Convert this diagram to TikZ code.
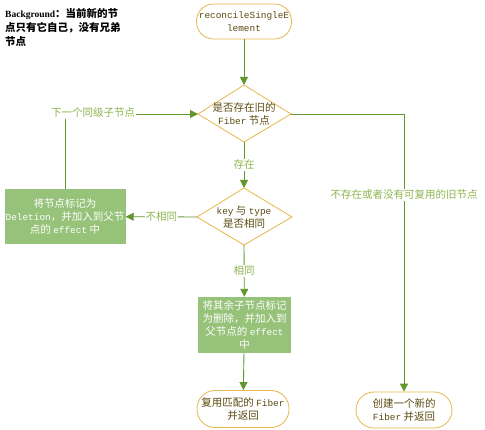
\documentclass[tikz,border=0pt]{standalone}
\usepackage{fontspec}
\setmainfont{Noto Sans CJK SC}
\newfontfamily\monofam{Liberation Mono}
\newfontfamily\bgserif{Liberation Serif}
\usetikzlibrary{arrows.meta}
\definecolor{lineg}{HTML}{62972F}
\definecolor{labg}{HTML}{8DB54E}
\definecolor{bord}{HTML}{E6B64A}
\definecolor{boxg}{HTML}{97C27A}
\definecolor{darkt}{HTML}{5B4B10}
\newcommand\mytt[1]{{\monofam\fontsize{9.4}{13}\selectfont #1}}
\begin{document}
\begin{tikzpicture}[x=1pt,y=-1pt,
  txt/.style={font=\fontsize{10.5}{13}\selectfont},
  term/.style={txt,draw=bord,fill=white,line width=0.8pt,rounded corners=17pt,align=center,text=darkt,inner sep=0pt},
  gbox/.style={txt,fill=boxg,align=center,text=white,inner sep=0pt},
  dtext/.style={txt,align=center,text=darkt,inner sep=0pt},
  dia/.style={draw=bord,line width=0.8pt},
  conn/.style={draw=lineg,line width=0.9pt,-{Triangle[length=8pt,width=8pt]}},
  lab/.style={txt,text=labg,fill=white,inner sep=1pt}]
\useasboundingbox (0,0) rectangle (485,430);

% background note
\node[anchor=north west,align=left,inner sep=0pt,font=\fontsize{10.5}{14}\selectfont\bfseries,text=black] (bg) at (5,8)
  {{\bgserif\fontsize{9.5}{14}\selectfont\bfseries Background}：当前新的节\\点只有它自己，没有兄弟\\节点};

% start
\node[term,minimum width=95pt,minimum height=35pt] (s) at (244,21.5)
  {\mytt{reconcileSingleE}\\\mytt{lement}};

% diamond 1
\coordinate (d1n) at (244,85);
\coordinate (d1e) at (291,114);
\coordinate (d1s) at (244,142);
\coordinate (d1w) at (198,114);
\draw[dia] (d1n) -- (d1e) -- (d1s) -- (d1w) -- cycle;
\node[dtext] (d1) at (244,114) {是否存在旧的\\\mytt{Fiber} 节点};

% diamond 2
\coordinate (d2n) at (244,188);
\coordinate (d2e) at (292,217);
\coordinate (d2s) at (244,245);
\coordinate (d2w) at (197,217);
\draw[dia] (d2n) -- (d2e) -- (d2s) -- (d2w) -- cycle;
\node[dtext] (d2) at (244,217) {\mytt{key} 与 \mytt{type}\\是否相同};

% green boxes
\node[gbox,minimum width=121pt,minimum height=55pt] (b1) at (65,216.5)
  {将节点标记为\\\mytt{Deletion}，并加入到父节\\点的 \mytt{effect} 中};
\node[gbox,minimum width=93pt,minimum height=56pt] (b2) at (244.5,325)
  {将其余子节点标记\\为删除，并加入到\\父节点的 \mytt{effect}\\中};

% terminals
\node[term,minimum width=92pt,minimum height=37pt,rounded corners=18pt] (t2) at (243,409)
  {复用匹配的 \mytt{Fiber}\\并返回};
\node[term,minimum width=96pt,minimum height=36pt,rounded corners=18pt] (t3) at (404,410)
  {创建一个新的\\\mytt{Fiber} 并返回};

% connectors
\draw[conn] (s) -- (d1n);
\draw[conn] (d1e) -| (t3);
\node[lab] (l3) at (404,195) {不存在或者没有可复用的旧节点};
\draw[conn] (d1s) -- node[lab] (l1) {存在} (d2n);
\draw[conn] (d2w) -- node[lab] (l2) {不相同} (b1);
\draw[conn] (b1.north) |- (d1w);
\node[lab] (l4) at (93,113) {下一个同级子节点};
\draw[conn] (d2s) -- node[lab] (l5) {相同} (b2);
\draw[conn] (b2) -- (t2);
\end{tikzpicture}
\end{document}
